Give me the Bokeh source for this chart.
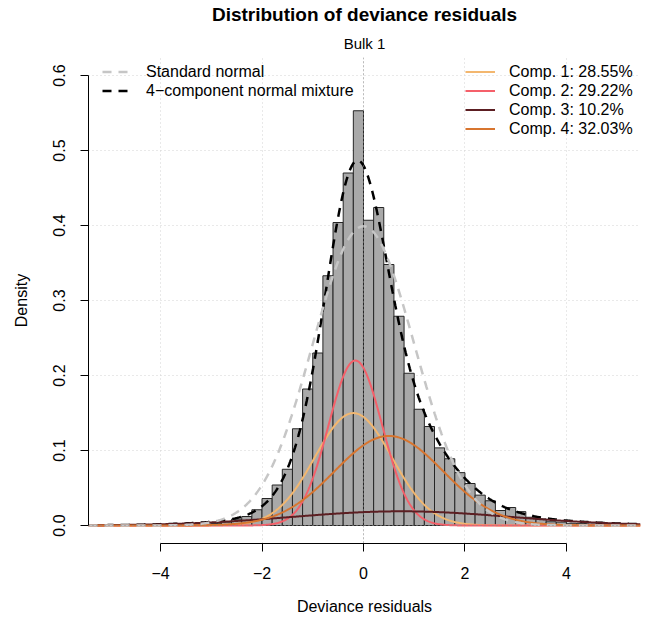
import numpy as np
from bokeh.plotting import figure
from bokeh.models import Range1d, FixedTicker, Span, Legend, LegendItem, Title
from bokeh.embed import file_html
from bokeh.resources import INLINE

# Histogram of deviance residuals (density scale, bins of width 0.2)
bin_width = 0.2
first_break = -5.4
densities = [
    0.0002, 0.0002, 0.0003, 0.0003, 0.0004, 0.0005, 0.0006, 0.0008, 0.0010, 0.0012,
    0.0015, 0.0020, 0.0028, 0.0045,                      # -5.4 ... -2.8
    0.0085, 0.012, 0.021, 0.036, 0.054, 0.075, 0.129,    # -2.6 ... -1.4
    0.182, 0.230, 0.333, 0.404, 0.470, 0.553,            # -1.2 ... -0.2
    0.407, 0.424, 0.348, 0.279, 0.203, 0.155, 0.132,     #  0.0 ...  1.2
    0.1035, 0.089, 0.0705, 0.056, 0.0405, 0.033, 0.020,  #  1.4 ...  2.6
    0.024, 0.0185, 0.011, 0.0088, 0.005, 0.0045, 0.003,  #  2.8 ...  4.0
    0.0025, 0.002, 0.0015, 0.001, 0.0008, 0.0005,        #  4.2 ...  5.2
]

# Fitted 4-component normal mixture
comp_weights = [0.2855, 0.2922, 0.1020, 0.3203]
comp_means = [-0.20, -0.16, 0.75, 0.50]
comp_sds = [0.76, 0.53, 2.15, 1.07]
comp_labels = ["Comp. 1: 28.55%", "Comp. 2: 29.22%", "Comp. 3: 10.2%", "Comp. 4: 32.03%"]
comp_colors = ["#F3B76F", "#F5606A", "#5C1E22", "#D8752F"]

x_ticks = [-4, -2, 0, 2, 4]
x_tick_labels = ["\u22124", "\u22122", "0", "2", "4"]
y_ticks = [0.0, 0.1, 0.2, 0.3, 0.4, 0.5, 0.6]
y_tick_labels = ["0.0", "0.1", "0.2", "0.3", "0.4", "0.5", "0.6"]

x_lo, x_hi = -5.42, 5.46
FONT = "Liberation Sans"

p = figure(width=646, height=621, output_backend="svg", toolbar_location=None,
           title=None,
           x_range=Range1d(x_lo, x_hi), y_range=Range1d(-0.024, 0.624),
           min_border_left=88, min_border_right=6,
           min_border_top=53, min_border_bottom=78)
p.outline_line_color = None
p.background_fill_color = "white"
p.border_fill_color = "white"

# grid
p.xgrid.ticker = FixedTicker(ticks=x_ticks)
p.ygrid.ticker = FixedTicker(ticks=y_ticks)
p.grid.grid_line_color = "#D3D3D3"
p.grid.grid_line_dash = "1 3"
p.grid.grid_line_width = 1

# histogram
dens = np.array(densities)
lefts = np.round(first_break + bin_width * np.arange(len(dens)), 1)
p.quad(left=lefts, right=lefts + bin_width, bottom=0, top=dens,
       fill_color="#A9A9A9", line_color="#262626", line_width=1)

# reference lines at zero
p.add_layout(Span(location=0, dimension="height", line_color="#8C8C8C",
                  line_dash="1 3", line_width=1))
p.add_layout(Span(location=0, dimension="width", line_color="#8C8C8C",
                  line_dash="1 3", line_width=1))

# density curves
xs = np.linspace(x_lo, x_hi, 800)


def normal_pdf(x, m, s):
    return np.exp(-0.5 * ((x - m) / s) ** 2) / (s * np.sqrt(2 * np.pi))


comp_curves = [w * normal_pdf(xs, m, s)
               for w, m, s in zip(comp_weights, comp_means, comp_sds)]
mixture = np.sum(comp_curves, axis=0)

r_mix = p.line(xs, mixture, line_color="black", line_width=2.5, line_dash="9 7")
comp_renderers = []
for curve, col in zip(comp_curves, comp_colors):
    comp_renderers.append(p.line(xs, curve, line_color=col, line_width=2))
r_std = p.line(xs, normal_pdf(xs, 0, 1), line_color="#C6C6C6", line_width=2.5,
               line_dash="9 7")

# axes
p.xaxis.ticker = FixedTicker(ticks=x_ticks)
p.xaxis.bounds = (x_ticks[0], x_ticks[-1])
p.xaxis.major_label_overrides = dict(zip(x_ticks, x_tick_labels))
p.yaxis.ticker = FixedTicker(ticks=y_ticks)
p.yaxis.bounds = (y_ticks[0], y_ticks[-1])
p.yaxis.major_label_overrides = dict(zip(y_ticks, y_tick_labels))
p.yaxis.major_label_orientation = "vertical"

for ax in (p.xaxis, p.yaxis):
    ax.axis_line_color = "black"
    ax.axis_line_width = 1
    ax.major_tick_line_color = "black"
    ax.major_tick_in = 0
    ax.major_tick_out = 8
    ax.minor_tick_line_color = None
    ax.major_label_text_font = FONT
    ax.major_label_text_font_size = "16px"
    ax.major_label_text_color = "black"
    ax.axis_label_text_font = FONT
    ax.axis_label_text_font_size = "16px"
    ax.axis_label_text_font_style = "normal"
    ax.axis_label_text_color = "black"

p.xaxis.axis_label = "Deviance residuals"
p.yaxis.axis_label = "Density"
p.xaxis.major_label_standoff = 15
p.xaxis.axis_label_standoff = 16
p.yaxis.major_label_standoff = 16
p.yaxis.axis_label_standoff = 20

# titles
p.add_layout(Title(text="Bulk 1", align="center", text_font=FONT,
                   text_font_size="15px", text_font_style="normal",
                   text_color="black", standoff=12), "above")
p.add_layout(Title(text="Distribution of deviance residuals", align="center",
                   text_font=FONT, text_font_size="19px",
                   text_font_style="bold", text_color="black",
                   standoff=3), "above")


def style_legend(leg):
    leg.border_line_color = None
    leg.background_fill_alpha = 0
    leg.padding = 0
    leg.margin = 0
    leg.spacing = 0
    leg.glyph_width = 30
    leg.glyph_height = 19
    leg.label_height = 19
    leg.label_standoff = 14
    leg.label_text_font = FONT
    leg.label_text_font_size = "16px"
    leg.label_text_color = "black"


leg_left = Legend(items=[LegendItem(label="Standard normal", renderers=[r_std]),
                         LegendItem(label="4\u2212component normal mixture",
                                    renderers=[r_mix])],
                  location=(14, 443))
style_legend(leg_left)
p.add_layout(leg_left, "center")

leg_right = Legend(items=[LegendItem(label=lab, renderers=[r])
                          for lab, r in zip(comp_labels, comp_renderers)],
                   location=(377, 405))
style_legend(leg_right)
p.add_layout(leg_right, "center")

open("out.html", "w").write(file_html(p, INLINE))
